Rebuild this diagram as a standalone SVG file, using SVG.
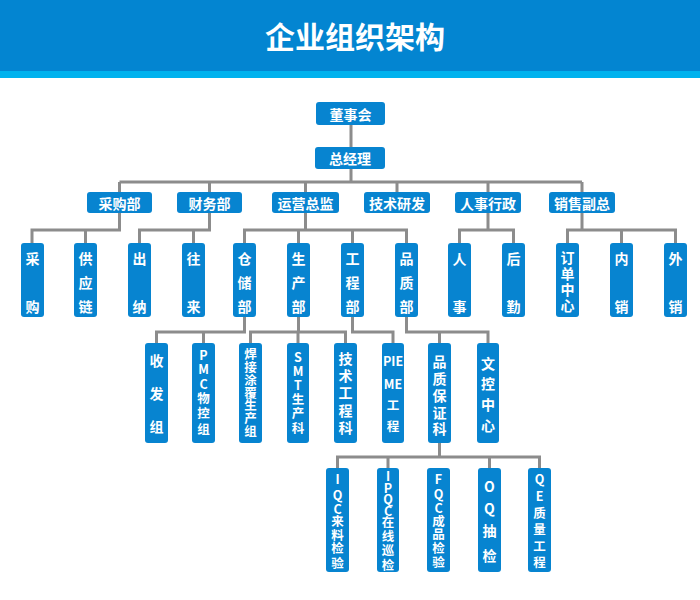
<svg xmlns="http://www.w3.org/2000/svg" width="700" height="600" viewBox="0 0 700 600">
<style>
.bx{fill:#0784d0}
.ln{fill:none;stroke:#8c8c8c;stroke-width:3}
text{font-family:"Noto Sans CJK SC","Noto Sans",sans-serif;font-weight:700;fill:#ffffff;text-anchor:middle;dominant-baseline:central}
.h{font-size:14px}
.v{font-size:14px}
.s{font-size:12.5px}
.t{font-size:30px}
</style>
<rect x="0" y="0" width="700" height="600" fill="#ffffff"/>
<g id="header">
<rect x="0" y="0" width="700" height="71" fill="#0385d1"/>
<rect x="0" y="71" width="700" height="7" fill="#00b2ee"/>
<text class="t" x="355" y="35">企业组织架构</text>
</g>
<g id="connectors">
<path class="ln" d="M351,125V147M351,169V182M119.5,182H582M119.5,182V192M209.5,182V192M305.5,182V192M397,182V192M488,182V192M582,182V192"/>
<path class="ln" d="M119.5,213V230H32V243M85.5,230V243"/>
<path class="ln" d="M209.5,213V230H139.5V243M193.5,230V243"/>
<path class="ln" d="M305.5,213V230M244.5,243V230H406.5V243M298.5,230V243M352.5,230V243"/>
<path class="ln" d="M488,213V230M459.5,243V230H513.5V243"/>
<path class="ln" d="M582,213V230M567.5,243V230H675.5V243M621.5,230V243"/>
<path class="ln" d="M244.5,317V332H156.5V343M203.5,332V343"/>
<path class="ln" d="M298.5,317V332M250.5,343V332H345.5V343M298,332V343"/>
<path class="ln" d="M352.5,317V332H393V343"/>
<path class="ln" d="M406.5,317V332H488V343M439.5,332V343"/>
<path class="ln" d="M439.5,443V457M337.5,468V457H539.5V468M388,457V468M489.5,457V468"/>
</g>
<g id="n-dongshihui"><rect class="bx" x="316" y="102" width="69" height="23" rx="3"/><text class="h" x="350.5" y="113.5">董事会</text></g>
<g id="n-zongjingli"><rect class="bx" x="315" y="147" width="70" height="22" rx="3"/><text class="h" x="350" y="158">总经理</text></g>
<g id="n-caigoubu"><rect class="bx" x="87" y="192" width="65" height="21" rx="3"/><text class="h" x="119.5" y="202.5">采购部</text></g>
<g id="n-caiwubu"><rect class="bx" x="177" y="192" width="65" height="21" rx="3"/><text class="h" x="209.5" y="202.5">财务部</text></g>
<g id="n-yunying"><rect class="bx" x="272" y="192" width="67" height="21" rx="3"/><text class="h" x="305.5" y="202.5">运营总监</text></g>
<g id="n-jishu"><rect class="bx" x="364" y="192" width="66" height="21" rx="3"/><text class="h" x="397" y="202.5">技术研发</text></g>
<g id="n-renshi"><rect class="bx" x="455" y="192" width="66" height="21" rx="3"/><text class="h" x="488" y="202.5">人事行政</text></g>
<g id="n-xiaoshou"><rect class="bx" x="549" y="192" width="66" height="21" rx="3"/><text class="h" x="582" y="202.5">销售副总</text></g>

<g id="n-caigou"><rect class="bx" x="21" y="243" width="23" height="74" rx="3"/><text class="v"><tspan x="32.5" y="258">采</tspan><tspan x="32.5" y="306">购</tspan></text></g>
<g id="n-gongyinglian"><rect class="bx" x="74" y="243" width="23" height="74" rx="3"/><text class="v"><tspan x="85.5" y="258">供</tspan><tspan x="85.5" y="282">应</tspan><tspan x="85.5" y="306">链</tspan></text></g>
<g id="n-chuna"><rect class="bx" x="128" y="243" width="23" height="74" rx="3"/><text class="v"><tspan x="139.5" y="258">出</tspan><tspan x="139.5" y="306">纳</tspan></text></g>
<g id="n-wanglai"><rect class="bx" x="182" y="243" width="23" height="74" rx="3"/><text class="v"><tspan x="193.5" y="258">往</tspan><tspan x="193.5" y="306">来</tspan></text></g>
<g id="n-cangchu"><rect class="bx" x="233" y="243" width="23" height="74" rx="3"/><text class="v"><tspan x="244.5" y="258">仓</tspan><tspan x="244.5" y="282">储</tspan><tspan x="244.5" y="306">部</tspan></text></g>
<g id="n-shengchan"><rect class="bx" x="287" y="243" width="23" height="74" rx="3"/><text class="v"><tspan x="298.5" y="258">生</tspan><tspan x="298.5" y="282">产</tspan><tspan x="298.5" y="306">部</tspan></text></g>
<g id="n-gongcheng"><rect class="bx" x="341" y="243" width="23" height="74" rx="3"/><text class="v"><tspan x="352.5" y="258">工</tspan><tspan x="352.5" y="282">程</tspan><tspan x="352.5" y="306">部</tspan></text></g>
<g id="n-pinzhi"><rect class="bx" x="395" y="243" width="23" height="74" rx="3"/><text class="v"><tspan x="406.5" y="258">品</tspan><tspan x="406.5" y="282">质</tspan><tspan x="406.5" y="306">部</tspan></text></g>
<g id="n-ren"><rect class="bx" x="448" y="243" width="23" height="74" rx="3"/><text class="v"><tspan x="459.5" y="258">人</tspan><tspan x="459.5" y="306">事</tspan></text></g>
<g id="n-houqin"><rect class="bx" x="502" y="243" width="23" height="74" rx="3"/><text class="v"><tspan x="513.5" y="258">后</tspan><tspan x="513.5" y="306">勤</tspan></text></g>
<g id="n-dingdan"><rect class="bx" x="556" y="243" width="23" height="74" rx="3"/><text class="v"><tspan x="567.5" y="257">订</tspan><tspan x="567.5" y="273">单</tspan><tspan x="567.5" y="289">中</tspan><tspan x="567.5" y="305">心</tspan></text></g>
<g id="n-neixiao"><rect class="bx" x="610" y="243" width="23" height="74" rx="3"/><text class="v"><tspan x="621.5" y="258">内</tspan><tspan x="621.5" y="306">销</tspan></text></g>
<g id="n-waixiao"><rect class="bx" x="664" y="243" width="23" height="74" rx="3"/><text class="v"><tspan x="675.5" y="258">外</tspan><tspan x="675.5" y="306">销</tspan></text></g>

<g id="n-shoufa"><rect class="bx" x="145" y="343" width="23" height="100" rx="3"/><text class="v"><tspan x="156.5" y="360">收</tspan><tspan x="156.5" y="393">发</tspan><tspan x="156.5" y="426">组</tspan></text></g>
<g id="n-pmc"><rect class="bx" x="192" y="343" width="23" height="100" rx="3"/><text class="s"><tspan x="203.5" y="354">P</tspan><tspan x="203.5" y="368">M</tspan><tspan x="203.5" y="383">C</tspan><tspan x="203.5" y="397">物</tspan><tspan x="203.5" y="412">控</tspan><tspan x="203.5" y="428">组</tspan></text></g>
<g id="n-hanjie"><rect class="bx" x="239" y="343" width="23" height="100" rx="3"/><text class="s"><tspan x="250.5" y="353">焊</tspan><tspan x="250.5" y="366">接</tspan><tspan x="250.5" y="379">涂</tspan><tspan x="250.5" y="391.5">覆</tspan><tspan x="250.5" y="404">生</tspan><tspan x="250.5" y="417">产</tspan><tspan x="250.5" y="430">组</tspan></text></g>
<g id="n-smt"><rect class="bx" x="287" y="343" width="22" height="100" rx="3"/><text class="s"><tspan x="298" y="356">S</tspan><tspan x="298" y="370">M</tspan><tspan x="298" y="384">T</tspan><tspan x="298" y="398">生</tspan><tspan x="298" y="412">产</tspan><tspan x="298" y="427">科</tspan></text></g>
<g id="n-jishugongcheng"><rect class="bx" x="334" y="343" width="23" height="100" rx="3"/><text class="v"><tspan x="345.5" y="358">技</tspan><tspan x="345.5" y="375">术</tspan><tspan x="345.5" y="392">工</tspan><tspan x="345.5" y="410">程</tspan><tspan x="345.5" y="427">科</tspan></text></g>
<g id="n-pieme"><rect class="bx" x="382" y="343" width="22" height="100" rx="3"/><text class="s"><tspan x="393" y="360">PIE</tspan><tspan x="393" y="383">ME</tspan><tspan x="393" y="404">工</tspan><tspan x="393" y="425">程</tspan></text></g>
<g id="n-pinzhibaozheng"><rect class="bx" x="428" y="343" width="23" height="100" rx="3"/><text class="v"><tspan x="439.5" y="361">品</tspan><tspan x="439.5" y="378">质</tspan><tspan x="439.5" y="395">保</tspan><tspan x="439.5" y="412">证</tspan><tspan x="439.5" y="428">科</tspan></text></g>
<g id="n-wenkong"><rect class="bx" x="477" y="343" width="22" height="100" rx="3"/><text class="v"><tspan x="488" y="363">文</tspan><tspan x="488" y="383">控</tspan><tspan x="488" y="404">中</tspan><tspan x="488" y="425">心</tspan></text></g>

<g id="n-iqc"><rect class="bx" x="326" y="468" width="23" height="104" rx="3"/><text class="s"><tspan x="337.5" y="478">I</tspan><tspan x="337.5" y="494">Q</tspan><tspan x="337.5" y="508">C</tspan><tspan x="337.5" y="520">来</tspan><tspan x="337.5" y="534">料</tspan><tspan x="337.5" y="547">检</tspan><tspan x="337.5" y="562">验</tspan></text></g>
<g id="n-ipqc"><rect class="bx" x="377" y="468" width="22" height="104" rx="3"/><text class="s"><tspan x="388" y="475">I</tspan><tspan x="388" y="487">P</tspan><tspan x="388" y="498">Q</tspan><tspan x="388" y="510">C</tspan><tspan x="388" y="521">在</tspan><tspan x="388" y="535">线</tspan><tspan x="388" y="549">巡</tspan><tspan x="388" y="564">检</tspan></text></g>
<g id="n-fqc"><rect class="bx" x="427" y="468" width="23" height="104" rx="3"/><text class="s"><tspan x="438.5" y="478">F</tspan><tspan x="438.5" y="493">Q</tspan><tspan x="438.5" y="507">C</tspan><tspan x="438.5" y="520">成</tspan><tspan x="438.5" y="533">品</tspan><tspan x="438.5" y="547">检</tspan><tspan x="438.5" y="561">验</tspan></text></g>
<g id="n-oq"><rect class="bx" x="478" y="468" width="23" height="104" rx="3"/><text class="v"><tspan x="489.5" y="486">O</tspan><tspan x="489.5" y="508">Q</tspan><tspan x="489.5" y="530">抽</tspan><tspan x="489.5" y="555">检</tspan></text></g>
<g id="n-qe"><rect class="bx" x="528" y="468" width="23" height="104" rx="3"/><text class="s"><tspan x="539.5" y="478">Q</tspan><tspan x="539.5" y="495">E</tspan><tspan x="539.5" y="512">质</tspan><tspan x="539.5" y="528">量</tspan><tspan x="539.5" y="545">工</tspan><tspan x="539.5" y="561">程</tspan></text></g>
</svg>
